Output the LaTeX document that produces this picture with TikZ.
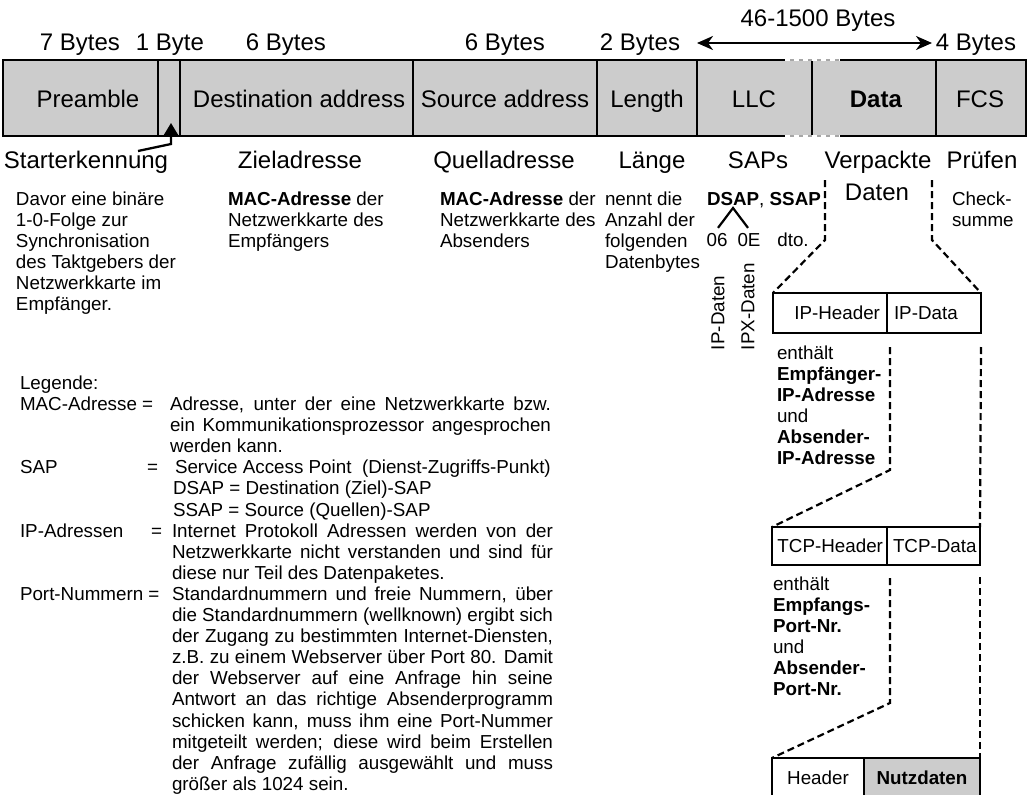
\documentclass[tikz,border=0pt]{standalone}
\usepackage{fontspec}
\setmainfont{Liberation Sans}
\usetikzlibrary{arrows.meta,calc}
\definecolor{cellgray}{RGB}{204,204,204}
\newlength\legw
\setlength\legw{381pt}
% one line of a text block, natural width / justified to \legw
\newcommand\pline[1]{\hbox{#1}}
\newcommand\jline[1]{\hbox{\makebox[\legw][s]{#1}}}
% block of lines whose baseline is the baseline of its first line
\newcommand\txtstack[1]{\vtop{#1}}

\begin{document}
\begin{tikzpicture}[x=1pt,y=-1pt,
  every node/.style={inner sep=0pt,outer sep=0pt},
  big/.style={font=\fontsize{24}{28}\selectfont,anchor=base},
  txt/.style={font=\fontsize{18.8}{21.1}\selectfont,anchor=base west},
  cell/.style={fill=cellgray,minimum height=76pt,anchor=west},
  barline/.style={line width=2.6pt},
  gapdots/.style={line width=2pt,gray!70,dash pattern=on 4pt off 5pt},
  boxcell/.style={draw,line width=2.3pt,font=\fontsize{18.8}{21.1}\selectfont,anchor=west},
  zoomline/.style={line width=2.2pt,dash pattern=on 7pt off 4pt},
  thinline/.style={line width=2.2pt},
  rangearrow/.style={line width=2.4pt,{Stealth[length=16pt,width=14pt,inset=5pt]}-{Stealth[length=16pt,width=14pt,inset=5pt]}},
  pointer/.style={line width=2.3pt,-{Triangle[length=13pt,width=15pt]}},
]
\useasboundingbox (0,0) rectangle (1029,795);

% ---------- frame cells ----------
\node[cell,minimum width=155pt] (pre) at (3,98) {};
\node[cell,minimum width=22pt]  (sfd) at (158,98) {};
\node[cell,minimum width=233pt] (dst) at (180,98) {};
\node[cell,minimum width=184pt] (src) at (413,98) {};
\node[cell,minimum width=100pt] (len) at (597,98) {};
\node[cell,minimum width=115pt] (llc) at (697,98) {};
\node[cell,minimum width=124pt] (dat) at (812,98) {};
\node[cell,minimum width=90pt]  (fcs) at (936,98) {};

% outline, open between LLC and Data (variable length)
\draw[barline] (785,60) -- (pre.north west) -- (pre.south west) -- (785,136);
\draw[barline] (840,60) -- (fcs.north east) -- (fcs.south east) -- (840,136);
\foreach \c in {pre,sfd,dst,src,len,llc,dat}
  \draw[barline] (\c.north east) -- (\c.south east);
\draw[line width=2.6pt,white] (785,60) -- (840,60) (785,136) -- (840,136);
\draw[gapdots] (790,60) -- (840,60) (790,136) -- (840,136);

% ---------- field names ----------
\node[big] (tpre) at (88,107)  {Preamble};
\node[big] (tdst) at (299,107) {Destination address};
\node[big] (tsrc) at (505,107) {Source address};
\node[big] (tlen) at (647,107) {Length};
\node[big] (tllc) at (754,107) {LLC};
\node[big] (tdat) at (876,107) {\textbf{Data}};
\node[big] (tfcs) at (980,107) {FCS};

% ---------- field sizes ----------
\node[big] (b7)  at (80,50)  {7 Bytes};
\node[big] (b1)  at (170,50) {1 Byte};
\node[big] (b6a) at (286,50) {6 Bytes};
\node[big] (b6b) at (505,50) {6 Bytes};
\node[big] (b2)  at (640,50) {2 Bytes};
\node[big] (b4)  at (976,50) {4 Bytes};
\node[big] (brange) at (818,27) {46-1500 Bytes};
\coordinate (rangeL) at (697,43);
\coordinate (rangeR) at (932,43);
\draw[rangearrow] (rangeL) -- (rangeR);

% ---------- German field names ----------
\node[big] (lsk)  at (86,168)  {Starterkennung};
\node[big] (lzi)  at (300,168) {Zieladresse};
\node[big] (lqu)  at (504,168) {Quelladresse};
\node[big] (llae) at (652,168) {Länge};
\node[big] (lsap) at (758,168) {SAPs};
\node[big] (lver) at (878,168) {Verpackte};
\node[big] (lpru) at (982,168) {Prüfen};
\node[big] (lda)  at (877,200) {Daten};

% pointer to the start frame delimiter
\coordinate (skfoot) at (138,151);
\coordinate (sktip) at (171,123);
\draw[pointer] (skfoot) -- (171,144) -- (sktip);

% ---------- field descriptions ----------
\node[txt] (dsk) at (16,205) {\txtstack{\pline{Davor eine binäre}\pline{1-0-Folge zur}%
  \pline{Synchronisation}\pline{des Taktgebers der}\pline{Netzwerkkarte im}\pline{Empfänger.}}};
\node[txt] (dzi) at (228,205) {\txtstack{\pline{\textbf{MAC-Adresse} der}%
  \pline{Netzwerkkarte des}\pline{Empfängers}}};
\node[txt] (dqu) at (440,205) {\txtstack{\pline{\textbf{MAC-Adresse} der}%
  \pline{Netzwerkkarte des}\pline{Absenders}}};
\node[txt] (dlae) at (605,205) {\txtstack{\pline{nennt die}\pline{Anzahl der}%
  \pline{folgenden}\pline{Datenbytes}}};
\node[txt] (dsap) at (707,205) {\textbf{DSAP}, \textbf{SSAP}};
\node[txt] (dchk) at (952,205) {\txtstack{\pline{Check-}\pline{summe}}};

\node[txt,anchor=base] (n06) at (717,246) {06};
\node[txt,anchor=base] (n0E) at (749,246) {0E};
\node[txt,anchor=base] (ndto) at (793,246) {dto.};
\coordinate (fork) at (733,208);
\draw[thinline] ($(n06.north)+(1,-5)$) -- (fork) -- ($(n0E.north)+(-1,-5)$);
\node[txt,anchor=west,rotate=90] (ipdat)  at (718,350) {IP-Daten};
\node[txt,anchor=west,rotate=90] (ipxdat) at (748,350) {IPX-Daten};

% ---------- IP packet ----------
\node[boxcell,minimum width=114pt,minimum height=40pt,inner xsep=7pt] (iph) at (773,313) {\makebox[100pt][r]{IP-Header}};
\node[boxcell,minimum width=94pt,minimum height=40pt,inner xsep=7pt] (ipd) at (887,313) {\makebox[80pt][l]{IP-Data}};
\node[txt] (dip) at (777,359) {\txtstack{\pline{enthält}\pline{\textbf{Empfänger-}}%
  \pline{\textbf{IP-Adresse}}\pline{und}\pline{\textbf{Absender-}}\pline{\textbf{IP-Adresse}}}};

% ---------- TCP segment ----------
\node[boxcell,minimum width=115pt,minimum height=38pt,inner xsep=4pt] (tch) at (772,546) {\makebox[107pt][r]{TCP-Header}};
\node[boxcell,minimum width=93pt,minimum height=38pt,inner xsep=6pt] (tcd) at (887,546) {\makebox[81pt][l]{TCP-Data}};
\node[txt] (dtcp) at (773,590) {\txtstack{\pline{enthält}\pline{\textbf{Empfangs-}}%
  \pline{\textbf{Port-Nr.}}\pline{und}\pline{\textbf{Absender-}}\pline{\textbf{Port-Nr.}}}};

% ---------- application data ----------
\node[boxcell,minimum width=92pt,minimum height=40pt] (hdr) at (772,778) {Header};
\node[boxcell,fill=cellgray,minimum width=116pt,minimum height=40pt] (nutz) at (864,778) {\textbf{Nutzdaten}};

% ---------- expansion lines ----------
\draw[zoomline] (825,180) -- (825,240) -- (iph.north west);
\draw[zoomline] (932,180) -- (932,240) -- (ipd.north east);
\draw[zoomline] (890,347) -- (890,470) -- (tch.north west);
\draw[zoomline] (981,347) -- (tcd.north east);
\draw[zoomline] (890,578) -- (890,703) -- (hdr.north west);
\draw[zoomline] (980,577) -- (nutz.north east);

% ---------- legend ----------
\node[txt] (leg) at (20,389.5) {Legende:};
\node[txt] (tmac) at (20,410.5) {MAC-Adresse =};
\node[txt] (tsapl) at (20,473.8) {SAP};
\node[txt] (eqsap) at (147,473.8) {=};
\node[txt] (tipl) at (20,537.1) {IP-Adressen};
\node[txt] (eqip) at (151,537.1) {=};
\node[txt] (tport) at (20,600.4) {Port-Nummern =};

\node[txt] (dmac) at (170,410.5) {\txtstack{%
  \jline{Adresse, unter der eine Netzwerkkarte bzw.}%
  \jline{ein Kommunikationsprozessor angesprochen}%
  \pline{werden kann.}}};
\node[txt] (dsapdef) at (173,473.8) {\txtstack{%
  \pline{\hspace{2pt}Service Access Point\ \ (Dienst-Zugriffs-Punkt)}%
  \pline{DSAP = Destination (Ziel)-SAP}%
  \pline{SSAP = Source (Quellen)-SAP}}};
\node[txt] (dipdef) at (172,537.1) {\txtstack{%
  \jline{Internet Protokoll Adressen werden von der}%
  \jline{Netzwerkkarte nicht verstanden und sind für}%
  \pline{diese nur Teil des Datenpaketes.}}};
\node[txt] (dportdef) at (172,600.4) {\txtstack{%
  \jline{Standardnummern und freie Nummern, über}%
  \jline{die Standardnummern (wellknown) ergibt sich}%
  \jline{der Zugang zu bestimmten Internet-Diensten,}%
  \jline{z.B. zu einem Webserver über Port 80. Damit}%
  \jline{der Webserver auf eine Anfrage hin seine}%
  \jline{Antwort an das richtige Absenderprogramm}%
  \jline{schicken kann, muss ihm eine Port-Nummer}%
  \jline{mitgeteilt werden; diese wird beim Erstellen}%
  \jline{der Anfrage zufällig ausgewählt und muss}%
  \pline{größer als 1024 sein.}}};
\end{tikzpicture}
\end{document}
